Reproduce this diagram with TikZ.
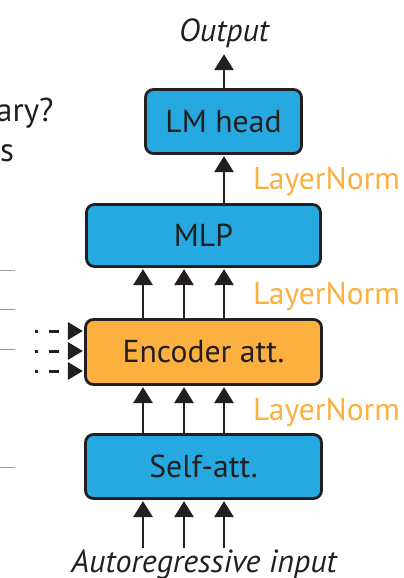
\documentclass[tikz,border=0pt]{standalone}
\usepackage{fontspec}
\setmainfont{PT Sans}
\usetikzlibrary{arrows.meta}

\definecolor{blockblue}{HTML}{25A9E0}
\definecolor{blockorange}{HTML}{FBB040}
\definecolor{inkdark}{HTML}{231F20}
\definecolor{rulegray}{HTML}{9A9A9A}

\begin{document}
\begin{tikzpicture}[x=1pt,y=-1pt,
  block/.style={draw=inkdark, line width=2.8pt, rounded corners=8pt,
    inner sep=0pt, text=inkdark, font=\fontsize{31.7}{38}\selectfont},
  flow/.style={draw=inkdark, line width=2.8pt, shorten >=1.2pt,
    -{Triangle[width=19pt,length=16pt]}},
  feed/.style={draw=inkdark, line width=3pt, shorten >=1.2pt,
    dash pattern=on 3pt off 11pt on 10pt off 40pt,
    -{Triangle[width=17pt,length=15pt]}},
  norm/.style={text=blockorange, anchor=base west, inner sep=0pt,
    font=\fontsize{31.5}{38}\selectfont},
  caption/.style={text=inkdark, anchor=base, inner sep=0pt,
    font=\itshape\fontsize{32}{38}\selectfont},
  slide/.style={text=inkdark, inner sep=0pt, font=\fontsize{33}{40}\selectfont},
  rule/.style={draw=rulegray, line width=1pt},
]
\useasboundingbox (0,0) rectangle (404,578);

% slide text running in from the left
\node[slide, anchor=base west] (pfrag) at (74,-6) {p};
\node[slide, anchor=base west] (q) at (-4,121) {ary?};
\node[slide, anchor=base west] (s) at (0,161) {s};
\draw[rule] (0,270) -- (15,270);
\draw[rule] (0,309) -- (15,309);
\draw[rule] (0,349) -- (15,349);
\draw[rule] (0,467) -- (15,467);

% decoder blocks
\node[block, fill=blockblue, minimum width=156pt, minimum height=64pt]
  (lm) at (223.5,121.5) {LM head};
\node[block, fill=blockblue, minimum width=234pt, minimum height=62pt]
  (mlp) at (203.5,235.5) {MLP};
\node[block, fill=blockorange, minimum width=236pt, minimum height=65pt]
  (enc) at (203.5,352) {Encoder att.};
\node[block, fill=blockblue, minimum width=236pt, minimum height=64pt]
  (self) at (203.5,466.5) {Self-att.};

% labels
\node[caption] (out) at (224,42) {Output};
\node[caption] (in) at (204,572) {Autoregressive input};
\node[norm] (ln1) at (253,189) {LayerNorm};
\node[norm] (ln2) at (253,304) {LayerNorm};
\node[norm] (ln3) at (253,420) {LayerNorm};

% columns of the token streams
\coordinate (c1) at (143,0);
\coordinate (c2) at (184,0);
\coordinate (c3) at (224,0);
\coordinate (i1) at (143,548);
\coordinate (i2) at (184,548);
\coordinate (i3) at (224,548);
\coordinate (otip) at (224,53);
\coordinate (d1) at (35,331);
\coordinate (d2) at (35,351);
\coordinate (d3) at (35,371);

\foreach \c in {i1,i2,i3}
  \draw[flow] (\c) -- (self.south -| \c);
\foreach \c in {c1,c2,c3} {
  \draw[flow] (self.north -| \c) -- (enc.south -| \c);
  \draw[flow] (enc.north -| \c) -- (mlp.south -| \c);
}
\draw[flow] (mlp.north -| c3) -- (lm.south -| c3);
\draw[flow] (lm.north -| c3) -- (otip);

% encoder outputs fed into cross-attention
\foreach \d in {d1,d2,d3}
  \draw[feed] (\d) -- (enc.west |- \d);
\end{tikzpicture}
\end{document}
